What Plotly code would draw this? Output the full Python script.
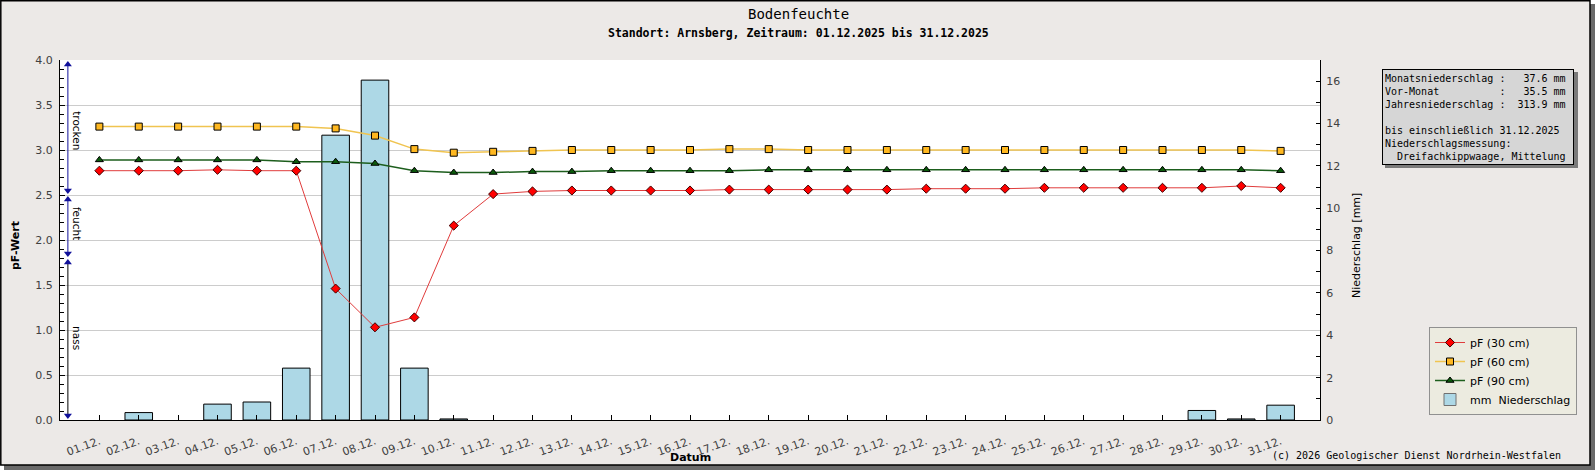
import plotly.graph_objs as go

# Datum (x) labels
days = ["01.12.", "02.12.", "03.12.", "04.12.", "05.12.", "06.12.", "07.12.", "08.12.",
        "09.12.", "10.12.", "11.12.", "12.12.", "13.12.", "14.12.", "15.12.", "16.12.",
        "17.12.", "18.12.", "19.12.", "20.12.", "21.12.", "22.12.", "23.12.", "24.12.",
        "25.12.", "26.12.", "27.12.", "28.12.", "29.12.", "30.12.", "31.12."]
day_no = list(range(1, 32))

pf30 = [2.77, 2.77, 2.77, 2.78, 2.77, 2.77, 1.46, 1.03, 1.14, 2.16, 2.51, 2.54, 2.55, 2.55,
        2.55, 2.55, 2.56, 2.56, 2.56, 2.56, 2.56, 2.57, 2.57, 2.57, 2.58, 2.58, 2.58, 2.58,
        2.58, 2.60, 2.58]
pf60 = [3.26, 3.26, 3.26, 3.26, 3.26, 3.26, 3.24, 3.16, 3.01, 2.97, 2.98, 2.99, 3.00, 3.00,
        3.00, 3.00, 3.01, 3.01, 3.00, 3.00, 3.00, 3.00, 3.00, 3.00, 3.00, 3.00, 3.00, 3.00,
        3.00, 3.00, 2.99]
pf90 = [2.89, 2.89, 2.89, 2.89, 2.89, 2.87, 2.87, 2.85, 2.77, 2.75, 2.75, 2.76, 2.76, 2.77,
        2.77, 2.77, 2.77, 2.78, 2.78, 2.78, 2.78, 2.78, 2.78, 2.78, 2.78, 2.78, 2.78, 2.78,
        2.78, 2.78, 2.77]
niederschlag = [0, 0.35, 0, 0.75, 0.85, 2.45, 13.45, 16.05, 2.45, 0.05, 0, 0, 0, 0, 0, 0,
                0, 0, 0, 0, 0, 0, 0, 0, 0, 0, 0, 0, 0.45, 0.05, 0.7]

# pF classes (label, lower, upper, label position)
klassen = [("nass", 0.0, 1.8, 0.91), ("feucht", 1.8, 2.5, 2.19), ("trocken", 2.5, 4.0, 3.22)]
klassen_farbe = {"nass": "black", "feucht": "#10109a", "trocken": "#10109a"}

info_zeilen = [
    "Monatsniederschlag :   37.6 mm",
    "Vor-Monat          :   35.5 mm",
    "Jahresniederschlag :  313.9 mm",
    "",
    "bis einschließlich 31.12.2025",
    "Niederschlagsmessung:",
    "  Dreifachkippwaage, Mittelung",
]

W, H = 1595, 470
L, R, T, B = 60, 275, 60, 50
PW, PH = W - L - R, H - T - B


def px(x):
    return (x - L) / PW


def py(y):
    return (H - B - y) / PH


SANS = "DejaVu Sans"
MONO = "DejaVu Sans Mono"
BG = "#ece9e7"
BAR_FARBE = "#add8e6"


def label(text, x, y, size=11, family=SANS, angle=0, xanchor="center", yref="paper"):
    return dict(text=text, x=px(x), y=y if yref != "paper" else py(y), xref="paper", yref=yref,
                xanchor=xanchor, yanchor="middle", textangle=angle, showarrow=False,
                font=dict(family=family, size=size, color="black"))


fig = go.Figure()

# no outline for days without rain
bar_linie = [1 if v > 0 else 0 for v in niederschlag]
fig.add_trace(go.Bar(
    x=day_no, y=niederschlag, name="mm\u00a0 Niederschlag", width=0.7,
    marker=dict(color=BAR_FARBE, line=dict(color="black", width=bar_linie)),
    yaxis="y", showlegend=False))
# legend entry for the bars
fig.add_trace(go.Bar(
    x=[None], y=[None], name="mm\u00a0 Niederschlag",
    marker=dict(color=BAR_FARBE, line=dict(color="#707070", width=1)),
    yaxis="y", legendrank=4))

fig.add_trace(go.Scatter(
    x=day_no, y=pf30, name="pF (30 cm)", mode="lines+markers", yaxis="y2",
    line=dict(color="#e03c3c", width=1),
    marker=dict(symbol="diamond", size=7, color="#ff0000", line=dict(color="#400000", width=1)),
    legendrank=1))
fig.add_trace(go.Scatter(
    x=day_no, y=pf60, name="pF (60 cm)", mode="lines+markers", yaxis="y2",
    line=dict(color="#f0c450", width=1.5),
    marker=dict(symbol="square", size=7, color="#ffb820", line=dict(color="black", width=1)),
    legendrank=2))
fig.add_trace(go.Scatter(
    x=day_no, y=pf90, name="pF (90 cm)", mode="lines+markers", yaxis="y2",
    line=dict(color="#1d5e1d", width=1.5),
    marker=dict(symbol="triangle-up", size=7, color="#0b5a0b", line=dict(color="black", width=1)),
    legendrank=3))

# class arrows on the left side of the pF axis
annotations = []
for name, lo, hi, mitte in klassen:
    farbe = klassen_farbe[name]
    fig.add_trace(go.Scatter(
        x=[0.2, 0.2], y=[lo + 0.04, hi - 0.04], mode="lines", yaxis="y2",
        line=dict(color=farbe, width=1), showlegend=False, hoverinfo="skip"))
    fig.add_trace(go.Scatter(
        x=[0.2, 0.2], y=[lo + 0.05, hi - 0.05], mode="markers", yaxis="y2",
        marker=dict(symbol=["triangle-down", "triangle-up"], size=7, color="#10109a"),
        showlegend=False, hoverinfo="skip"))
    annotations.append(label(name, 77, mitte, size=10.5, angle=90, yref="y2"))

# titles
annotations.append(label("Bodenfeuchte", 798, 14, size=14, family=MONO))
annotations.append(label("<b>Standort: Arnsberg, Zeitraum: 01.12.2025 bis 31.12.2025</b>",
                         798, 33, size=11.5, family=MONO))
annotations.append(label("<b>pF-Wert</b>", 16, 246, angle=-90))
annotations.append(label("Niederschlag [mm]", 1357, 245, angle=-90))
annotations.append(label("<b>Datum</b>", 690, 457))
annotations.append(label("(c) 2026 Geologischer Dienst Nordrhein-Westfalen", 1563, 455,
                         size=10, family=MONO, xanchor="right"))

# info box
info_text = "<br>".join(z.replace(" ", "\u00a0") for z in info_zeilen)
annotations.append(dict(text=info_text, x=px(1382), y=py(69), xref="paper", yref="paper",
                        xanchor="left", yanchor="top", align="left", showarrow=False,
                        width=186, height=90, borderpad=2, bgcolor="#d6d6d6",
                        bordercolor="black", borderwidth=1,
                        font=dict(family=MONO, size=10, color="black")))

shapes = [
    # frame shadow + frame
    dict(type="rect", xref="paper", yref="paper", x0=px(4), x1=px(1595), y0=py(4), y1=py(470),
         fillcolor="#6a6a6a", line=dict(width=0), layer="below"),
    dict(type="rect", xref="paper", yref="paper", x0=px(0.8), x1=px(1590), y0=py(0.8), y1=py(465),
         fillcolor=BG, line=dict(color="black", width=1.5), layer="below"),
    # plot area
    dict(type="rect", xref="paper", yref="paper", x0=0, x1=1, y0=0, y1=1,
         fillcolor="white", line=dict(width=0), layer="below"),
    # info box shadow
    dict(type="rect", xref="paper", yref="paper", x0=px(1385), x1=px(1578), y0=py(72), y1=py(168),
         fillcolor="#7a7a7a", line=dict(width=0), layer="below"),
    # legend shadow
    dict(type="rect", xref="paper", yref="paper", x0=px(1433), x1=px(1573), y0=py(331), y1=py(411),
         fillcolor="#7a7a7a", line=dict(width=0), layer="below"),
]

tickfont = dict(family=SANS, size=11, color="#404040")

fig.update_layout(
    width=W, height=H,
    margin=dict(l=L, r=R, t=T, b=B, autoexpand=False),
    paper_bgcolor="white", plot_bgcolor="rgba(0,0,0,0)",
    showlegend=True,
    bargap=0.3, barmode="overlay",
    xaxis=dict(range=[0, 32], tickmode="array", tickvals=day_no, ticktext=days, tickangle=-20,
               ticks="inside", ticklen=5, tickcolor="black", showline=True, linecolor="black",
               linewidth=1, showgrid=False, zeroline=False, tickfont=tickfont, fixedrange=True,
               ticklabelstandoff=10),
    yaxis=dict(range=[0, 17], side="right", dtick=2, ticks="inside", ticklen=4, tickcolor="black",
               minor=dict(dtick=1, ticks="inside", ticklen=4, tickcolor="black", showgrid=False),
               showline=True, linecolor="black", linewidth=1, showgrid=False, zeroline=False,
               tickfont=tickfont, ticklabelstandoff=3),
    yaxis2=dict(range=[0, 4], overlaying="y", side="left", dtick=0.5, tickformat=".1f",
                ticks="inside", ticklen=5, tickcolor="black",
                minor=dict(dtick=0.1, ticks="inside", ticklen=4, tickcolor="black", showgrid=False),
                showline=True, linecolor="black", linewidth=1, showgrid=True, gridcolor="#cccccc",
                gridwidth=1, zeroline=False, tickfont=tickfont, ticklabelstandoff=4),
    legend=dict(x=px(1429), y=py(327), xanchor="left", yanchor="top", bgcolor="#ecebe0",
                bordercolor="#909090", borderwidth=1, font=dict(family=SANS, size=11, color="black"),
                tracegroupgap=0, itemwidth=30),
    annotations=annotations,
    shapes=shapes,
)

fig.write_html("out.html", config={"displayModeBar": False},
               post_script="document.body.style.margin='0px';")
